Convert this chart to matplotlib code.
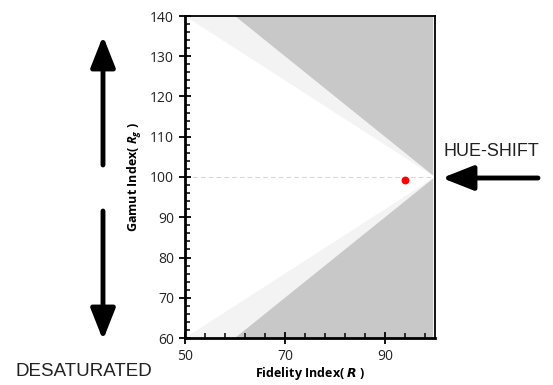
import matplotlib
matplotlib.use("Agg")
import matplotlib.pyplot as plt
from matplotlib.ticker import MultipleLocator

plt.rcParams["mathtext.fontset"] = "custom"
plt.rcParams["mathtext.bf"] = "Open Sans:bold:italic"
plt.rcParams["mathtext.it"] = "Open Sans:bold:italic"

# ---- data ----
x_limits = [50, 100]
y_limits = [60, 140]
apex = [100, 100]
light_upper_x = [50, 100, 100]
light_upper_y = [140, 100, 140]
light_lower_x = [50, 100, 100]
light_lower_y = [60, 100, 60]
dark_upper_x = [60, 99.6, 99.6]
dark_upper_y = [140, 100.4, 140]
dark_lower_x = [60, 99.6, 99.6]
dark_lower_y = [60, 99.6, 60]
sample_R = [94]
sample_Rg = [99.3]
x_major = [50, 70, 90]
y_major = [60, 70, 80, 90, 100, 110, 120, 130, 140]

light_color = "#f3f3f3"
dark_color = "#c8c8c8"

fig = plt.figure(figsize=(5.53, 3.85), dpi=100)
ax = fig.add_axes([185/553, 1-338/385, (435-185)/553, (338-16)/385])
ax.set_axisbelow(False)

ax.fill(light_upper_x, light_upper_y, color=light_color, lw=0, zorder=0.5)
ax.fill(light_lower_x, light_lower_y, color=light_color, lw=0, zorder=0.5)
ax.fill(dark_upper_x, dark_upper_y, color=dark_color, lw=0, zorder=0.6)
ax.fill(dark_lower_x, dark_lower_y, color=dark_color, lw=0, zorder=0.6)
ax.plot(x_limits, [apex[1], apex[1]], ls=(0, (4, 3)), color="#d6d6d6", lw=0.8, zorder=1)
ax.scatter(sample_R, sample_Rg, s=32, color="#ff0000", zorder=5, linewidths=0)

ax.set_xlim(x_limits)
ax.set_ylim(y_limits)
ax.set_xticks(x_major)
ax.set_yticks(y_major)
ax.xaxis.set_minor_locator(MultipleLocator(4, offset=2))
ax.yaxis.set_minor_locator(MultipleLocator(2))
ax.tick_params(which="major", direction="inout", length=8, width=1.3, labelsize=10, pad=4)
ax.tick_params(which="minor", direction="in", length=3.5, width=1.1)
for lab in ax.get_xticklabels() + ax.get_yticklabels():
    lab.set_fontfamily("Open Sans")
    lab.set_color("#222222")

for s in ["left", "bottom"]:
    ax.spines[s].set_linewidth(2)
for s in ["top", "right"]:
    ax.spines[s].set_linewidth(1.3)

ax.set_xlabel(r"Fidelity Index( $\boldsymbol{R}$ )", fontsize=9, fontweight="bold",
              fontfamily="Open Sans", labelpad=1)
ax.set_ylabel(r"Gamut Index( $\boldsymbol{R_g}$ )", fontsize=9, fontweight="bold",
              fontfamily="Open Sans", labelpad=4)

# annotations (figure pixel coords)
def fx(px):
    return px / 553
def fy(py):
    return 1 - py / 385

arrow_kw = dict(arrowstyle="-|>,head_length=1.9,head_width=0.75", color="black", lw=3.5,
                shrinkA=0, shrinkB=0)
fig.add_artist(matplotlib.patches.FancyArrowPatch((fx(103), fy(165)), (fx(103), fy(36)),
               transform=fig.transFigure, mutation_scale=10, **arrow_kw))
fig.add_artist(matplotlib.patches.FancyArrowPatch((fx(103), fy(211)), (fx(103), fy(340)),
               transform=fig.transFigure, mutation_scale=10, **arrow_kw))
fig.add_artist(matplotlib.patches.FancyArrowPatch((fx(538), fy(178)), (fx(442), fy(178)),
               transform=fig.transFigure, mutation_scale=10, **arrow_kw))

fig.text(fx(491), fy(152), "HUE-SHIFT", fontsize=13, ha="center", va="center",
         fontfamily="Liberation Sans", color="#222222")
fig.text(fx(84), fy(371), "DESATURATED", fontsize=13.5, ha="center", va="center",
         fontfamily="Liberation Sans", color="#222222")

fig.savefig("out.png", dpi=100)
